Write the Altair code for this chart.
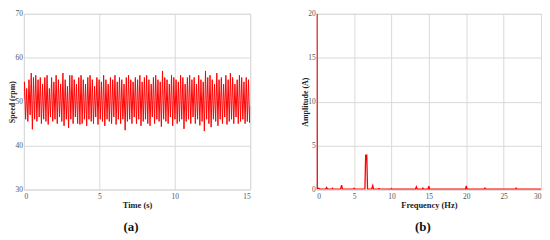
import altair as alt
import pandas as pd

# ---- Panel (a): speed signal, peaks and troughs per cycle ----
cycle_period = 0.15  # s
speed_highs = [
    54.5, 53, 55, 56.5, 55.5, 56, 55, 55.5, 54, 55.5, 56, 53, 55.5, 54.5, 56, 55, 54, 56.5, 55, 53.5, 56, 56, 55, 54, 55.5,
    56, 55, 54, 55.5, 56, 55, 53.5, 55.5, 55, 54.5, 56, 55, 54, 55.5, 55, 56, 54.5, 55.5, 55, 54, 55.5, 56, 55, 54.5, 55.5,
    55, 56, 54.5, 55.5, 56, 55, 54, 55.5, 56, 55, 54.5, 57, 55.5, 55, 54, 56, 55.5, 55, 54.5, 56, 55.5, 54, 55.5, 56, 55,
    55.5, 54, 56, 55, 54.5, 57, 55.5, 56, 55, 54, 56.5, 55, 55.5, 54, 56, 55, 56.5, 55.5, 54, 55, 56, 55.5, 54.5, 55.5, 55,
]
speed_lows = [
    46, 45.5, 47, 43.7, 46, 45.5, 46.5, 45, 46, 45.5, 44.8, 46.5, 45.5, 46, 45, 46.5, 45.5, 44.5, 46, 44, 46, 45, 46.5, 45, 44.8,
    45, 46, 44.5, 46, 45.5, 45, 46.5, 44.8, 46, 45.5, 44.5, 46, 45.5, 45, 46.5, 44.8, 46, 45, 46, 43.5, 45.5, 46, 45, 46.5, 45,
    46, 44.5, 45.5, 46, 45, 44.5, 46.5, 45, 46, 45.5, 44.3, 46, 45.5, 45, 46.5, 44.5, 46, 45, 45.5, 46, 43.8, 45.5, 46, 45, 46.5,
    45, 46, 44.6, 45.5, 43.3, 46, 45, 44.2, 46, 45.5, 44.5, 46, 45, 46.5, 44.8, 45.5, 46, 45, 46.5, 45, 45.5, 46, 45, 45.5, 45.2,
]
start_speed = 50.5
end_speed = 49.0

t_vals = [0.0]
s_vals = [start_speed]
for k, (hi, lo) in enumerate(zip(speed_highs, speed_lows)):
    t_vals.append(k * cycle_period + cycle_period * 0.25)
    s_vals.append(hi)
    t_vals.append(k * cycle_period + cycle_period * 0.75)
    s_vals.append(lo)
t_vals.append(15.0)
s_vals.append(end_speed)
df_a = pd.DataFrame({"t": t_vals, "speed": s_vals})

# ---- Panel (b): amplitude spectrum ----
freq_hz = [0, 0.0, 0.08, 0.3, 0.4, 0.5, 1.2, 1.33, 1.45, 2.0, 2.1, 2.2, 3.2, 3.33, 3.45,
           4.9, 5.0, 5.1, 6.45, 6.55, 6.7, 6.8, 7.35, 7.5, 7.6, 8.2, 8.33, 8.45, 9.9, 10.0, 10.1,
           13.2, 13.33, 13.45, 14.1, 14.2, 14.3, 14.9, 15.0, 15.1, 19.9, 20.0, 20.1,
           22.4, 22.5, 22.6, 26.6, 26.67, 26.8, 30]
amp_a = [0, 50, 0.1, 0.15, 0.05, 0.05, 0.05, 0.22, 0.05, 0.05, 0.15, 0.05, 0.05, 0.5, 0.05,
         0.05, 0.12, 0.05, 0.05, 3.9, 3.9, 0.05, 0.05, 0.45, 0.05, 0.05, 0.12, 0.05, 0.03, 0.1, 0.03,
         0.03, 0.3, 0.03, 0.03, 0.15, 0.03, 0.03, 0.38, 0.03, 0.03, 0.42, 0.03,
         0.03, 0.15, 0.03, 0.03, 0.15, 0.03, 0.03]
df_b = pd.DataFrame({"f": freq_hz, "amp": amp_a})

serif = "Liberation Serif"
RED = "#ff0000"


def xaxis(title, values):
    return alt.Axis(
        title=title, values=values, grid=True, gridColor="#d9d9d9", gridWidth=1,
        ticks=False, domain=False, labelFont=serif, labelFontSize=7.5,
        labelColor="#555555", labelPadding=3, titleFont=serif, titleFontSize=8.5,
        titleFontWeight="bold", titleColor="#222222", titlePadding=1,
    )


def yaxis(title, values):
    return alt.Axis(
        title=title, values=values, grid=True, gridColor="#d9d9d9", gridWidth=1,
        ticks=False, domain=False, labelFont=serif, labelFontSize=7.5,
        labelColor="#555555", labelPadding=1.5, titleFont=serif, titleFontSize=8,
        titleFontWeight="bold", titleColor="#222222", titleX=-7,
    )


title_style = dict(orient="bottom", anchor="middle", font=serif, fontSize=13,
                   fontWeight="bold", color="#111111", offset=12, dx=-6)

panel_a = alt.Chart(df_a).mark_line(color=RED, strokeWidth=1, clip=True).encode(
    x=alt.X("t:Q", scale=alt.Scale(domain=[0, 15], nice=False), axis=xaxis("Time (s)", [0, 5, 10, 15])),
    y=alt.Y("speed:Q", scale=alt.Scale(domain=[30, 70], nice=False), axis=yaxis("Speed (rpm)", [30, 40, 50, 60, 70])),
    order="t:Q",
).properties(width=228, height=177, title=alt.TitleParams("(a)", **title_style))

panel_b = alt.Chart(df_b).mark_line(color=RED, strokeWidth=1.3, clip=True).encode(
    x=alt.X("f:Q", scale=alt.Scale(domain=[0, 30], nice=False), axis=xaxis("Frequency (Hz)", [0, 5, 10, 15, 20, 25, 30])),
    y=alt.Y("amp:Q", scale=alt.Scale(domain=[0, 20], nice=False), axis=yaxis("Amplitude (A)", [0, 5, 10, 15, 20])),
    order=alt.Order("idx:Q"),
).transform_window(idx="row_number()").properties(
    width=226, height=177, title=alt.TitleParams("(b)", **title_style))

chart = alt.hconcat(panel_a, panel_b, spacing=50).properties(
    padding={"left": 0, "top": 0, "right": 0, "bottom": 0},
).configure_view(stroke="#555555", strokeWidth=1).configure(background="white")

chart.save("out.html", embed_options={"renderer": "svg", "actions": False})
